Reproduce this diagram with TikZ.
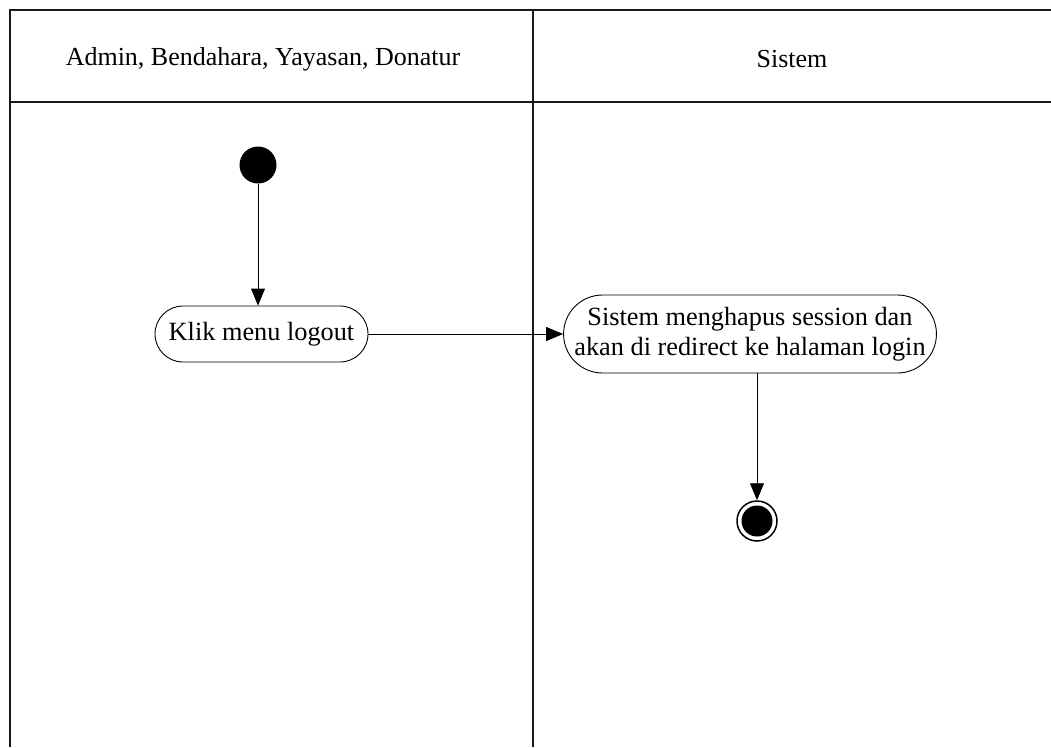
\documentclass[tikz,border=0pt]{standalone}
\usepackage{fontspec}
\setmainfont{Liberation Serif}
\usetikzlibrary{shapes.misc,arrows.meta}
\begin{document}
\begin{tikzpicture}[x=1pt,y=-1pt,
  lane/.style={line width=1.4pt,draw=black!90},
  action/.style={rounded rectangle,draw,line width=0.9pt,inner sep=0pt,align=center,font=\fontsize{26.3}{30}\selectfont},
  flow/.style={line width=0.9pt,-{Triangle[length=17pt,width=14pt]}},
  hdr/.style={font=\fontsize{26}{30}\selectfont}]
\useasboundingbox (0,0) rectangle (1051,747);
% swimlanes
\draw[lane] (1051,10) -- (10,10) -- (10,747);
\draw[lane] (10,102) -- (1051,102);
\draw[lane] (533,10) -- (533,747);
\node[hdr] (h1) at (263,59) {Admin, Bendahara, Yayasan, Donatur};
\node[hdr] (h2) at (792,59) {Sistem};
% nodes
\node[circle,fill=black,minimum size=37pt,inner sep=0pt] (start) at (258,165) {};
\node[action,minimum width=213pt,minimum height=56pt] (klik) at (261.5,334) {Klik menu logout};
\node[action,minimum width=366pt,minimum height=78pt] (sys) at (750,334) {Sistem menghapus session dan\\akan di redirect ke halaman login};
\node[circle,draw,line width=1.5pt,minimum size=40pt,inner sep=0pt] (end) at (757,521) {};
\node[circle,fill=black,minimum size=31pt,inner sep=0pt] (endin) at (end) {};
% flows
\draw[flow] (start) -- (start |- klik.north);
\draw[flow] (klik.east) -- (sys.west |- klik.east);
\draw[flow] (sys.south -| end) -- (end.north);
\end{tikzpicture}
\end{document}
